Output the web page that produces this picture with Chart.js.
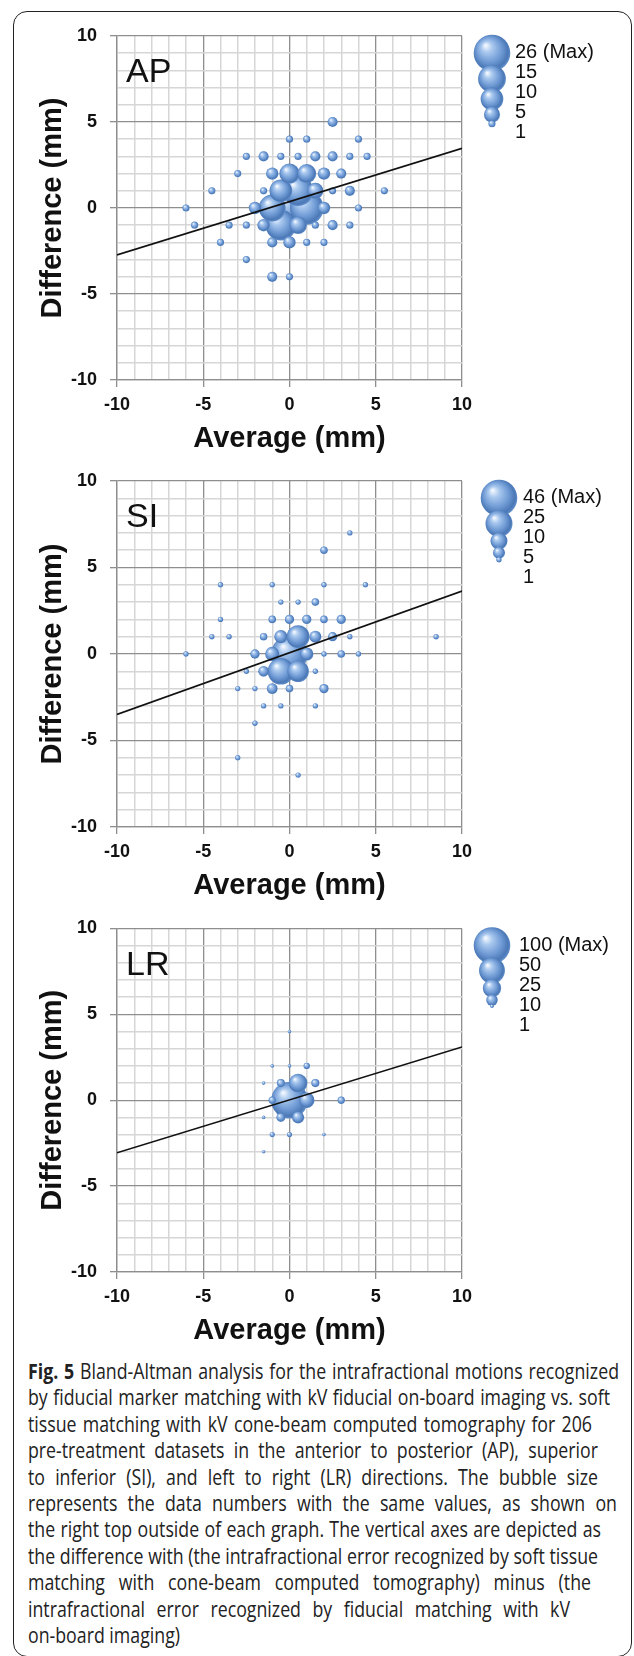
<!DOCTYPE html>
<html>
<head>
<meta charset="utf-8">
<script src="https://cdn.jsdelivr.net/npm/chart.js@4.4.1/dist/chart.umd.min.js"></script>
<style>
  html, body { margin: 0; padding: 0; background: #fff; }
  body { width: 634px; height: 1656px; position: relative; overflow: hidden; }
  .frame { position: absolute; left: 13px; top: 11px; width: 619px; height: 1646px; border: 1.6px solid #222; border-radius: 14px; box-sizing: border-box; }
  .panel { position: absolute; left: 0; }
  .caption { position: absolute; left: 28px; top: 1358px; font-family: "Open Sans", "Noto Sans", sans-serif; font-size: 21px; line-height: 26.4px; color: #222; white-space: nowrap; transform-origin: 0 0; }
  .caption div { text-align: justify; text-align-last: justify; }
  .caption div.last { text-align-last: left; }
</style>
</head>
<body>
<div class="frame"></div>
<canvas id="ap" class="panel"></canvas>
<canvas id="si" class="panel"></canvas>
<canvas id="lr" class="panel"></canvas>
<div class="caption" id="caption">
  <div data-w="591"><b>Fig. 5</b> Bland-Altman analysis for the intrafractional motions recognized</div>
  <div data-w="582">by fiducial marker matching with kV fiducial on-board imaging vs. soft</div>
  <div data-w="564">tissue matching with kV cone-beam computed tomography for 206</div>
  <div data-w="570">pre-treatment datasets in the anterior to posterior (AP), superior</div>
  <div data-w="570">to inferior (SI), and left to right (LR) directions. The bubble size</div>
  <div data-w="589">represents the data numbers with the same values, as shown on</div>
  <div data-w="573">the right top outside of each graph. The vertical axes are depicted as</div>
  <div data-w="570">the difference with (the intrafractional error recognized by soft tissue</div>
  <div data-w="563">matching with cone-beam computed tomography) minus (the</div>
  <div data-w="542">intrafractional error recognized by fiducial matching with kV</div>
  <div class="last">on-board imaging)</div>
</div>
<script>
// AP panel: average (x), difference (y), number of datasets at that point
const apAvg   = [2.5, 0, 1, 4, -2.5, -1.5, -0.5, 0.5, 1.5, 2.5, 3.5, 4.5, -3, -1, 0, 1, 2, 3, -4.5, -1.5, -0.5, 0.5, 1.5, 2.5, 3.5, 5.5, -6, -2, -1, 0, 1, 2, 4, -5.5, -3.5, -2.5, -1.5, -0.5, 0.5, 1.5, 2.5, 3.5, -4, -1, 0, 1, 2, -2.5, -1, 0];
const apDiff  = [5, 4, 4, 4, 3, 3, 3, 3, 3, 3, 3, 3, 2, 2, 2, 2, 2, 2, 1, 1, 1, 1, 1, 1, 1, 1, 0, 0, 0, 0, 0, 0, 0, -1, -1, -1, -1, -1, -1, -1, -1, -1, -2, -2, -2, -2, -2, -3, -4, -4];
const apCount = [2, 1, 1, 1, 1, 2, 1, 1, 2, 2, 1, 1, 1, 3, 8, 7, 3, 2, 1, 1, 10, 18, 5, 1, 2, 1, 1, 3, 14, 26, 22, 3, 1, 1, 1, 1, 3, 18, 6, 1, 2, 1, 1, 2, 3, 1, 1, 1, 2, 1];
const apFit = [-2.73, 3.47];
const apLegend = [26, 15, 10, 5, 1];

// SI panel
const siAvg   = [3.5, 2, -4, -1, 2, 4.4, -0.5, 0.5, 1.5, -4, -1, 0, 1, 2, 3, -4.5, -3.5, -1.5, -0.5, 0.5, 1.5, 2.5, 3.5, 8.5, -6, -2, -1, 0, 1, 2, 3, 4, -2.5, -1.5, -0.5, 0.5, 1.5, -3, -2, -1, 0, 2, -1.5, -0.5, 1.5, -2, -3, 0.5];
const siDiff  = [7, 6, 4, 4, 4, 4, 3, 3, 3, 2, 2, 2, 2, 2, 2, 1, 1, 1, 1, 1, 1, 1, 1, 1, 0, 0, 0, 0, 0, 0, 0, 0, -1, -1, -1, -1, -1, -2, -2, -2, -2, -2, -3, -3, -3, -4, -6, -7];
const siCount = [1, 2, 1, 1, 1, 1, 1, 1, 2, 1, 2, 3, 3, 2, 3, 1, 1, 2, 6, 18, 5, 3, 1, 1, 1, 3, 7, 46, 6, 1, 2, 1, 1, 4, 24, 16, 1, 1, 1, 4, 2, 3, 1, 1, 1, 1, 1, 1];
const siFit = [-3.49, 3.64];
const siLegend = [46, 25, 10, 5, 1];

// LR panel
const lrAvg   = [0, -1, 0, 1, -1.5, -0.5, 0.5, 1.5, -1, 0, 1, 3, -1.5, -0.5, 0.5, -1, 0, 2, -1.5];
const lrDiff  = [4, 2, 2, 2, 1, 1, 1, 1, 0, 0, 0, 0, -1, -1, -1, -2, -2, -2, -3];
const lrCount = [1, 1, 1, 3, 1, 5, 26, 5, 4, 100, 18, 4, 1, 6, 11, 2, 2, 1, 1];
const lrFit = [-3.06, 3.1];
const lrLegend = [100, 50, 25, 10, 1];

const fitX = [-10, 10];

const FONT = '"Liberation Sans", Arial, Helvetica, sans-serif';
const MAJOR = '#8e8e8e';
const MINOR = '#d6d6d6';
const R_MAX = 18.3;
const FLAT = '#6d98d3';

const bubbleR = (n, max) => R_MAX * Math.sqrt(n / max);
const isMajor = (c) => c.tick && Math.abs(c.tick.value % 5) < 1e-9;

function sphere(g, x, y, r) {
  if (![x, y, r].every(Number.isFinite)) return FLAT;
  const grad = g.createRadialGradient(x - r * 0.35, y - r * 0.42, r * 0.04, x - r * 0.05, y - r * 0.05, r * 1.08);
  grad.addColorStop(0, '#f2f7fe');
  grad.addColorStop(0.25, '#a9c8ee');
  grad.addColorStop(0.62, '#709bd5');
  grad.addColorStop(0.88, '#4b78b6');
  grad.addColorStop(1, '#6592cc');
  return grad;
}

function axis(title, isX) {
  return {
    type: 'linear',
    min: -10,
    max: 10,
    afterFit: (s) => { if (isX) s.height = 76; else s.width = 117; },
    ticks: {
      stepSize: 1,
      autoSkip: false,
      maxRotation: 0,
      padding: isX ? 7 : 13,
      color: '#111',
      font: { family: FONT, size: 18, weight: 'bold' },
      callback: (v) => (Math.abs(v % 5) < 1e-9 ? String(v) : ''),
    },
    grid: {
      color: (c) => (isMajor(c) ? MAJOR : MINOR),
      lineWidth: (c) => (isMajor(c) ? 1.3 : 1.5),
      tickLength: 7,
      tickColor: (c) => (isMajor(c) ? MAJOR : 'rgba(0,0,0,0)'),
      tickWidth: 1.3,
    },
    border: { color: MAJOR, width: 1.3 },
    title: {
      display: true,
      text: title,
      color: '#111',
      font: { family: FONT, size: 29, weight: 'bold' },
      padding: isX ? { top: 0, bottom: 0 } : { top: 36, bottom: 0 },
    },
  };
}

function makeChart(p) {
  const canvas = document.getElementById(p.id);
  const H = Math.round(p.plotBottom - p.top + 76);
  canvas.width = 634;
  canvas.height = H;
  canvas.style.top = p.top + 'px';

  const max = p.legend[0];
  // larger bubbles first so the small ones stay visible on top
  const pts = p.avg.map((x, i) => ({ x, y: p.diff[i], n: p.count[i] })).sort((a, b) => b.n - a.n);

  const deco = {
    id: 'deco_' + p.id,
    afterDraw(chart) {
      const g = chart.ctx;
      const area = chart.chartArea;
      g.save();
      g.fillStyle = '#111';
      g.textBaseline = 'alphabetic';
      g.textAlign = 'left';
      g.font = '34px ' + FONT;
      g.fillText(p.label, area.left + 9, area.top + 46);

      // size legend: stacked spheres with their counts
      let cy = area.top + 17;
      let prevR = 0;
      p.legend.forEach((v, i) => {
        const r = bubbleR(v, max);
        if (i > 0) cy += 0.8 * (prevR + r);
        g.beginPath();
        g.arc(p.legendX, cy, r, 0, Math.PI * 2);
        g.fillStyle = sphere(g, p.legendX, cy, r);
        g.fill();
        prevR = r;
      });
      g.fillStyle = '#111';
      g.font = '20px ' + FONT;
      p.legend.forEach((v, i) => {
        g.fillText(i === 0 ? v + ' (Max)' : String(v), p.legendTextX, area.top + 22.3 + 20 * i);
      });
      g.restore();
    },
  };

  return new Chart(canvas, {
    type: 'bubble',
    data: {
      datasets: [
        {
          type: 'line',
          data: fitX.map((x, i) => ({ x, y: p.fit[i] })),
          borderColor: '#111',
          borderWidth: 1.6,
          pointRadius: 0,
          fill: false,
          order: 0,
        },
        {
          type: 'bubble',
          data: pts,
          radius: (c) => (c.raw ? bubbleR(c.raw.n, max) : 3),
          backgroundColor: (c) => {
            if (!c.raw) return FLAT;
            const xs = c.chart.scales.x;
            const ys = c.chart.scales.y;
            if (!xs || !ys) return FLAT;
            const px = xs.getPixelForValue(c.raw.x);
            const py = ys.getPixelForValue(c.raw.y);
            return sphere(c.chart.ctx, px, py, bubbleR(c.raw.n, max));
          },
          borderWidth: 0,
          order: 1,
        },
      ],
    },
    options: {
      responsive: false,
      animation: false,
      events: [],
      layout: { padding: { top: p.plotTop - p.top, right: 172, bottom: 0, left: 0 } },
      plugins: { legend: { display: false }, tooltip: { enabled: false } },
      scales: {
        x: axis('Average (mm)', true),
        y: axis('Difference (mm)', false),
      },
    },
    plugins: [deco],
  });
}

makeChart({ id: 'ap', label: 'AP', top: 0, plotTop: 36, plotBottom: 380, avg: apAvg, diff: apDiff, count: apCount, fit: apFit, legend: apLegend, legendX: 492, legendTextX: 515 });
makeChart({ id: 'si', label: 'SI', top: 445, plotTop: 481, plotBottom: 827, avg: siAvg, diff: siDiff, count: siCount, fit: siFit, legend: siLegend, legendX: 499, legendTextX: 523 });
makeChart({ id: 'lr', label: 'LR', top: 892, plotTop: 928.5, plotBottom: 1272, avg: lrAvg, diff: lrDiff, count: lrCount, fit: lrFit, legend: lrLegend, legendX: 492, legendTextX: 519 });

// caption: condensed, each line set to the width it has in the figure
const cap = document.getElementById('caption');
const capLines = Array.from(cap.querySelectorAll('div'));
capLines.forEach((d) => { d.style.display = 'inline-block'; });
let k = 10;
capLines.forEach((d) => {
  const w = Number(d.dataset.w);
  if (w) k = Math.min(k, w / d.getBoundingClientRect().width);
});
capLines.forEach((d) => {
  d.style.display = 'block';
  const w = Number(d.dataset.w);
  if (w) d.style.width = (w / k) + 'px';
});
cap.style.transform = 'scaleX(' + k + ')';
</script>
</body>
</html>
